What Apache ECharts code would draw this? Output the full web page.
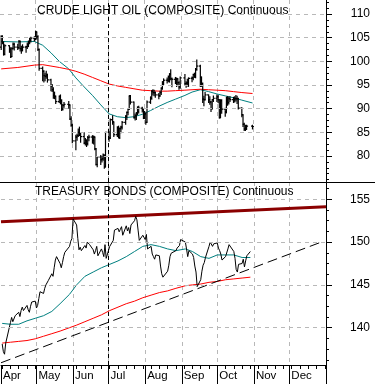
<!DOCTYPE html>
<html><head><meta charset="utf-8">
<script src="https://cdn.jsdelivr.net/npm/echarts@6/dist/echarts.min.js"></script>
<style>html,body{margin:0;padding:0;background:#fff}#c{width:375px;height:384px}</style>
</head><body><div id="c"></div>
<script>
const FONT = 'Liberation Sans, Arial, sans-serif';
const monthNames = ['Jan','Feb','Mar','Apr','May','Jun','Jul','Aug','Sep','Oct','Nov','Dec'];
const holidays = ['2012-04-06','2012-05-28','2012-07-04','2012-09-03'];
const crudeClosed = ['2012-10-29','2012-10-30'];

// Crude light oil daily OHLC (Apr 2 .. Oct 31, 2012)
const crudeOpen = [
103.0,105.2,104.0,101.5,103.3,102.5,101.0,102.7,103.6,103.0,102.9,104.2,102.7,102.3,103.0,103.1,103.5,104.1,104.5,104.9,
104.9,106.2,105.2,102.5,98.5,97.9,97.0,96.8,97.1,96.1,94.8,94.0,92.8,92.6,91.5,92.6,91.7,89.9,90.7,90.9,90.8,87.8,
86.5,83.2,84.0,84.3,85.0,84.8,84.1,82.7,83.3,82.6,83.9,84.0,83.3,84.0,81.5,78.2,79.8,79.2,79.4,80.2,77.7,
85.0,83.8,87.7,87.2,84.5,86.0,83.9,85.8,86.1,87.1,88.4,89.2,89.9,92.7,91.4,88.1,88.5,89.0,89.4,90.1,89.8,
88.1,88.9,87.1,91.4,92.2,93.7,93.4,93.4,92.9,92.7,93.4,94.3,95.6,96.0,96.0,96.7,97.3,96.3,96.2,95.5,96.3,95.5,94.6,
96.5,95.3,95.4,95.5,96.4,96.5,97.2,97.0,98.3,99.0,96.6,95.3,92.0,91.9,92.9,91.9,91.4,90.0,91.9,
92.2,92.5,91.9,88.1,91.7,89.9,89.3,92.4,91.3,92.1,91.9,91.9,92.1,92.1,92.1,90.1,88.7,86.7,85.7,85.7,86.3];
const crudeHigh = [
105.5,105.5,104.2,103.6,103.4,103.0,103.0,104.0,103.9,103.7,104.5,104.4,103.3,103.6,103.3,104.0,104.4,105.0,105.2,105.3,
106.5,106.3,105.5,102.7,98.9,98.1,97.6,98.0,97.4,96.3,95.2,94.5,93.6,92.8,92.8,93.0,92.0,91.0,91.4,91.6,90.9,88.4,
86.8,84.5,84.7,85.8,86.2,85.0,85.0,83.8,83.5,84.2,84.5,84.4,84.3,84.1,81.7,80.0,80.2,80.0,80.5,80.3,85.1,
85.2,87.9,88.6,87.3,86.3,86.4,86.0,86.4,87.4,88.6,89.4,90.0,92.8,92.9,91.5,89.0,89.3,90.5,90.6,90.4,90.0,
89.5,89.2,91.7,92.6,93.9,94.1,94.0,93.6,93.3,93.8,94.5,95.8,96.4,96.6,97.0,97.5,98.3,96.6,96.7,96.6,96.4,95.8,96.8,
97.3,95.8,96.3,96.6,96.8,97.4,97.6,98.6,100.4,99.3,96.8,95.5,92.7,93.5,93.0,92.6,91.6,92.0,92.8,
93.0,92.9,92.0,92.0,92.0,90.2,92.5,92.6,92.5,92.6,92.5,92.6,92.9,92.7,92.3,90.3,88.8,87.0,86.6,86.6,86.6];
const crudeLow = [
102.4,103.6,101.2,101.3,101.8,100.7,100.9,102.5,102.3,102.4,102.6,102.1,101.6,102.1,101.8,102.6,103.0,103.6,104.0,104.2,
104.5,104.6,102.2,98.0,95.8,95.5,95.8,96.3,95.5,93.7,93.5,92.1,92.0,91.0,91.2,90.9,89.5,89.6,90.2,90.0,87.6,86.2,
82.7,81.2,83.2,84.0,84.2,82.8,82.5,82.2,81.9,82.2,83.1,82.6,82.4,81.2,78.0,77.6,78.1,78.6,79.0,77.3,77.6,
83.0,83.6,86.6,84.0,84.0,83.7,83.6,84.8,85.6,86.6,87.6,88.6,89.7,90.9,87.9,87.5,87.6,88.6,89.0,89.2,87.8,
87.8,86.6,87.0,91.0,91.9,92.8,92.6,92.3,92.0,92.5,92.9,94.0,95.0,95.3,95.6,95.5,96.0,94.5,95.2,94.6,95.0,94.0,94.2,
94.9,94.4,94.7,94.6,95.6,96.0,96.5,96.4,98.0,94.6,94.6,91.2,90.5,91.7,91.2,90.8,89.3,89.8,91.4,
91.4,91.2,87.9,88.0,88.9,88.3,89.0,90.6,90.9,91.4,91.2,91.3,91.5,91.0,89.8,88.2,86.1,85.3,85.3,85.5,85.6];
const crudeClose = [
105.2,104.0,101.5,103.3,102.5,101.0,102.7,103.6,103.0,102.9,104.2,102.7,102.3,103.0,103.1,103.5,104.1,104.5,104.9,104.9,
106.2,105.2,102.5,98.5,97.9,97.0,96.8,97.1,96.1,94.8,94.0,92.8,92.6,91.5,92.6,91.7,89.9,90.7,90.9,90.8,87.8,86.5,
83.2,84.0,84.3,85.0,84.8,84.1,82.7,83.3,82.6,83.9,84.0,83.3,84.0,81.5,78.2,79.8,79.2,79.4,80.2,77.7,85.0,
83.8,87.7,87.2,84.5,86.0,83.9,85.8,86.1,87.1,88.4,89.2,89.9,92.7,91.4,88.1,88.5,89.0,89.4,90.1,89.8,88.1,
88.9,87.1,91.4,92.2,93.7,93.4,93.4,92.9,92.7,93.4,94.3,95.6,96.0,96.0,96.7,97.3,96.3,96.2,95.5,96.3,95.5,94.6,96.5,
95.3,95.4,95.5,96.4,96.5,97.2,97.0,98.3,99.0,96.6,95.3,92.0,91.9,92.9,91.9,91.4,90.0,91.9,92.2,
92.5,91.9,88.1,91.7,89.9,89.3,92.4,91.3,92.1,91.9,91.9,92.1,92.1,92.1,90.1,88.7,86.7,85.7,85.7,86.3,86.2];

const crudeMaDates = ['2012-04-02','2012-04-16','2012-04-30','2012-05-07','2012-05-14','2012-05-21','2012-05-29','2012-06-04','2012-06-11','2012-06-18','2012-06-25','2012-07-02','2012-07-09','2012-07-16','2012-07-23','2012-07-30','2012-08-06','2012-08-13','2012-08-20','2012-08-27','2012-09-04','2012-09-10','2012-09-17','2012-09-24','2012-10-01','2012-10-08','2012-10-15','2012-10-22','2012-10-31'];
const crudeMaShort = [104.2,104.1,104.2,103.4,101.8,100.0,98.4,96.5,94.6,92.8,90.8,88.9,88.3,88.1,88.3,88.8,89.6,90.5,91.3,92.0,92.8,93.5,94.0,93.6,93.1,92.7,92.3,91.8,91.2];
const crudeMaLong = [98.4,98.7,99.2,99.3,99.0,98.7,98.3,97.9,97.3,96.6,95.9,95.2,94.8,94.5,94.2,93.9,93.8,93.7,93.7,93.8,93.9,94.0,94.1,94.0,93.9,93.8,93.6,93.4,93.2];

// Treasury bonds daily close (Apr 2 .. Oct 29, 2012)
const bondClose = [
138.1,137.2,136.9,138.2,140.6,141.2,140.7,140.5,141.4,141.8,141.3,142.0,142.4,142.0,142.6,142.1,141.8,142.5,143.0,143.1,
142.3,142.6,143.4,144.2,144.0,144.6,145.0,144.8,145.5,146.3,146.0,147.0,147.9,148.3,147.5,147.0,147.6,148.3,148.8,149.5,150.1,150.4,
152.7,152.0,150.4,149.1,149.4,149.0,149.6,149.3,150.0,150.2,149.7,149.1,148.6,149.0,149.5,148.4,149.2,148.8,148.3,149.7,148.1,
149.5,149.3,150.2,151.4,151.6,151.2,151.5,151.8,150.8,151.9,151.3,151.7,151.0,152.0,152.5,153.0,152.6,151.4,150.2,150.8,151.0,
150.3,150.9,149.2,149.5,148.6,148.3,148.0,148.5,148.4,147.2,146.3,145.9,146.1,146.6,147.3,148.3,148.7,148.6,149.0,149.3,149.1,149.6,150.3,
150.0,149.2,148.3,149.0,148.6,148.2,147.2,146.5,144.8,145.6,146.6,147.3,147.6,148.2,149.5,150.0,150.1,149.5,149.8,
149.9,149.3,149.0,148.6,147.9,148.3,148.5,149.2,149.7,149.6,148.9,148.1,146.8,146.5,147.4,147.5,148.0,147.1,147.8,148.4,148.9];

const bondMaDates = ['2012-04-02','2012-04-09','2012-04-16','2012-04-23','2012-04-30','2012-05-07','2012-05-14','2012-05-21','2012-05-29','2012-06-04','2012-06-11','2012-06-18','2012-06-25','2012-07-02','2012-07-09','2012-07-16','2012-07-23','2012-07-30','2012-08-06','2012-08-13','2012-08-20','2012-08-27','2012-09-04','2012-09-10','2012-09-17','2012-09-24','2012-10-01','2012-10-08','2012-10-15','2012-10-22','2012-10-29'];
const bondMaShort = [140.5,140.4,140.4,140.8,141.1,141.4,141.9,142.8,143.9,145.0,146.0,146.5,147.0,147.4,147.8,148.3,148.9,149.5,149.7,149.5,149.2,149.0,149.2,148.9,148.3,148.1,148.5,148.5,148.5,148.2,148.2];
const bondMaLong = [138.2,138.3,138.4,138.5,138.7,139.0,139.3,139.6,140.0,140.3,140.7,141.1,141.5,142.0,142.4,142.8,143.1,143.5,143.8,144.1,144.3,144.6,144.9,145.0,145.1,145.3,145.4,145.6,145.7,145.8,145.9];

const upperTrendDates = ['2012-04-01','2013-01-01'];
const upperTrendValues = [152.38,154.14];
const lowerTrendDates = ['2012-04-01','2012-12-28'];
const lowerTrendValues = [135.9,150.0];

const crudeTicks = [80,85,90,95,100,105,110];
const bondTicks = [140,145,150,155];
const markerDate = '2012-07-01';

// ---------- build helpers ----------
function iso(d){return d.toISOString().slice(0,10);}
function calendarDays(start,end){const out=[];let d=new Date(start+'T00:00:00Z');const e=new Date(end+'T00:00:00Z');while(d<=e){out.push(iso(d));d=new Date(d.getTime()+86400000);}return out;}
function tradingDays(start,end,skip){return calendarDays(start,end).filter(s=>{const w=new Date(s+'T00:00:00Z').getUTCDay();return w!==0&&w!==6&&!skip.includes(s);});}
function minorTicks(a,b,step){const out=[];for(let v=a;v<=b+1e-9;v+=step)out.push(Math.round(v*100)/100);return out;}

const days = calendarDays('2012-04-01','2013-01-01');
const crudeDates = tradingDays('2012-04-02','2012-10-31',holidays.concat(crudeClosed));
const bondDates = tradingDays('2012-04-02','2012-10-29',holidays);
const crudeBars = crudeDates.map((d,i)=>[d,crudeOpen[i],crudeHigh[i],crudeLow[i],crudeClose[i]]);
const zip = (a,b)=>a.map((d,i)=>[d,b[i]]);

const isMonthStart = (i,v)=>v.slice(8)==='01';
const isInnerMonthStart = (i,v)=>v.slice(8)==='01' && i>0 && i<days.length-1;
const isLabelMonth = (i,v)=>v.slice(8)==='01' && i<days.length-1;
const isMonday = (i,v)=>new Date(v+'T00:00:00Z').getUTCDay()===1;

const gridDash = {color:'#b8b8b8', type:[4,4], width:1};
function hLines(vals){return vals.map(v=>({yAxis:v, lineStyle:gridDash}));}
const julLine = {xAxis: markerDate, lineStyle:{color:'#000', type:[4,3], width:1}};

const txt = {fontFamily:FONT, color:'#000'};
const chart = echarts.init(document.getElementById('c'), null, {renderer:'canvas'});

const crudeMin = 74.5, crudeMax = 112.96;
const bondMin = 135.64, bondMax = 157.02;

function yAxes(grid,min,max,major,minor){
  return [
    {type:'value', gridIndex:grid, position:'right', min:min, max:max, scale:true,
     axisLine:{show:true, lineStyle:{color:'#000', width:1}},
     axisTick:{show:true, customValues:major, length:6, lineStyle:{color:'#000'}},
     axisLabel:{show:true, customValues:major, align:'right', margin:44, fontSize:12, ...txt},
     splitLine:{show:false}},
    {type:'value', gridIndex:grid, position:'right', min:min, max:max, scale:true,
     axisLine:{show:false},
     axisTick:{show:true, customValues:minor, length:3, lineStyle:{color:'#000'}},
     axisLabel:{show:false}, splitLine:{show:false}}
  ];
}

const option = {
  animation:false,
  backgroundColor:'#fff',
  title:[
    {text:'CRUDE LIGHT OIL (COMPOSITE) Continuous', left:37, top:4.5, padding:0, textStyle:{fontSize:12, fontWeight:'normal', ...txt}},
    {text:'TREASURY BONDS (COMPOSITE) Continuous', left:35, top:186, padding:0, textStyle:{fontSize:12, fontWeight:'normal', ...txt}}
  ],
  grid:[
    {left:0, top:0, width:326, height:182},
    {left:0, top:182, width:326, height:183}
  ],
  xAxis:[
    {type:'category', gridIndex:0, data:days, boundaryGap:false,
     axisLine:{show:false}, axisTick:{show:false}, axisLabel:{show:false},
     splitLine:{show:true, interval:isInnerMonthStart, lineStyle:gridDash}},
    {type:'category', gridIndex:1, data:days, boundaryGap:false,
     axisLine:{show:true, lineStyle:{color:'#000'}},
     axisTick:{show:true, interval:isMonthStart, length:19, lineStyle:{color:'#000'}},
     axisLabel:{show:true, interval:isLabelMonth, align:'left', padding:[0,0,0,2], margin:5, fontSize:11.5, ...txt,
       formatter:(v)=>monthNames[parseInt(v.slice(5,7),10)-1]},
     splitLine:{show:true, interval:isInnerMonthStart, lineStyle:gridDash}},
    {type:'category', gridIndex:1, data:days, boundaryGap:false, position:'bottom',
     axisLine:{show:false}, axisTick:{show:true, interval:isMonday, length:4, lineStyle:{color:'#000'}},
     axisLabel:{show:false}, splitLine:{show:false}}
  ],
  yAxis:[].concat(
    yAxes(0,crudeMin,crudeMax,crudeTicks,minorTicks(75,112.5,1.25)),
    yAxes(1,bondMin,bondMax,bondTicks,minorTicks(136.25,156.25,1.25))
  ),
  graphic:[
    {type:'line', shape:{x1:0,y1:182.5,x2:375,y2:182.5}, style:{stroke:'#000', lineWidth:1}, z:10}
  ],
  series:[
    {type:'line', name:'crudeShort', xAxisIndex:0, yAxisIndex:0, data:zip(crudeMaDates,crudeMaShort),
     showSymbol:false, lineStyle:{color:'#008080', width:1}, z:2,
     markLine:{silent:true, symbol:['none','none'], label:{show:false}, data:hLines(crudeTicks).concat([julLine])}},
    {type:'line', name:'crudeLong', xAxisIndex:0, yAxisIndex:0, data:zip(crudeMaDates,crudeMaLong),
     showSymbol:false, lineStyle:{color:'#ff0000', width:1}, z:2},
    {type:'custom', name:'crude', xAxisIndex:0, yAxisIndex:0, data:crudeBars, z:3,
     encode:{x:0, y:[1,2,3,4]},
     renderItem:function(params, api){
       const xi = api.value(0);
       const o = api.coord([xi, api.value(1)]);
       const h = api.coord([xi, api.value(2)]);
       const l = api.coord([xi, api.value(3)]);
       const c = api.coord([xi, api.value(4)]);
       const st = {stroke:'#000', lineWidth:1.2};
       return {type:'group', children:[
         {type:'line', shape:{x1:h[0],y1:h[1],x2:l[0],y2:l[1]}, style:st},
         {type:'line', shape:{x1:o[0]-1.5,y1:o[1],x2:o[0],y2:o[1]}, style:st},
         {type:'line', shape:{x1:c[0],y1:c[1],x2:c[0]+1.5,y2:c[1]}, style:st}
       ]};
     }},
    {type:'line', name:'bondShort', xAxisIndex:1, yAxisIndex:2, data:zip(bondMaDates,bondMaShort),
     showSymbol:false, lineStyle:{color:'#008080', width:1}, z:2,
     markLine:{silent:true, symbol:['none','none'], label:{show:false}, data:hLines(bondTicks).concat([julLine])}},
    {type:'line', name:'bondLong', xAxisIndex:1, yAxisIndex:2, data:zip(bondMaDates,bondMaLong),
     showSymbol:false, lineStyle:{color:'#ff0000', width:1}, z:2},
    {type:'line', name:'upper', xAxisIndex:1, yAxisIndex:2, data:zip(upperTrendDates,upperTrendValues),
     showSymbol:false, lineStyle:{color:'#8b0000', width:3}, z:2},
    {type:'line', name:'lower', xAxisIndex:1, yAxisIndex:2, data:zip(lowerTrendDates,lowerTrendValues),
     showSymbol:false, lineStyle:{color:'#000', width:1, type:[10,5]}, z:2},
    {type:'line', name:'bond', xAxisIndex:1, yAxisIndex:2, data:zip(bondDates,bondClose),
     showSymbol:false, lineStyle:{color:'#000', width:1}, z:3}
  ]
};
chart.setOption(option);
</script>
</body></html>
